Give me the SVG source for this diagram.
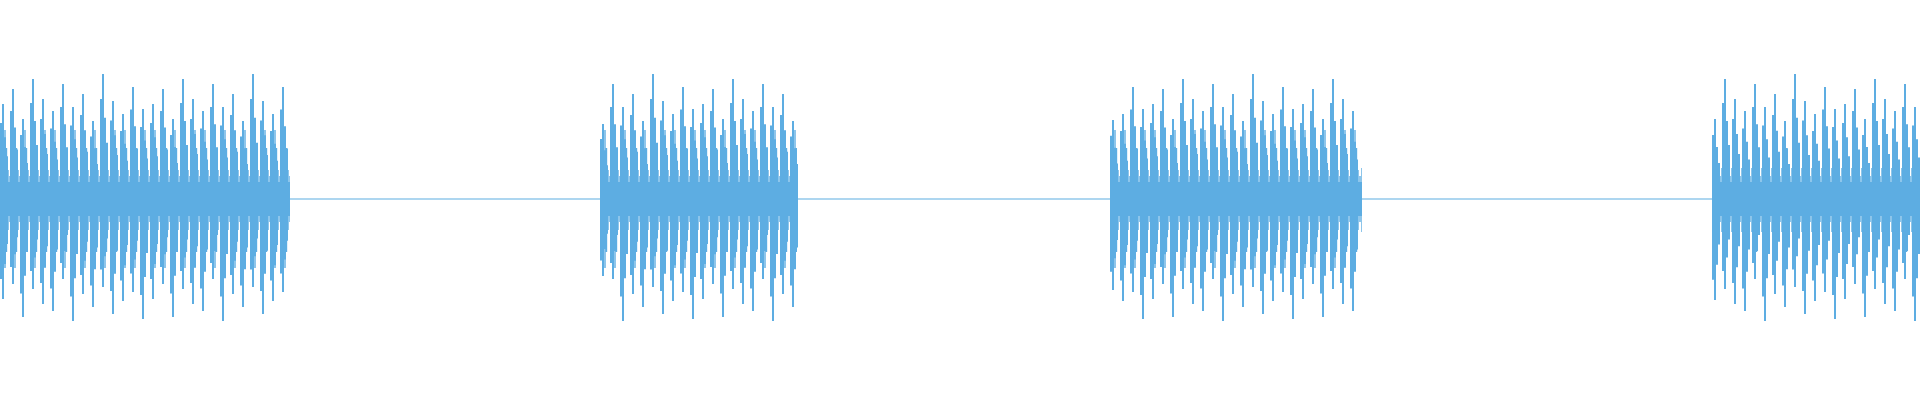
<svg xmlns="http://www.w3.org/2000/svg" width="1920" height="400" viewBox="0 0 1920 400">
<style>.w{stroke:#5dade2;fill:none}</style>
<defs>
<pattern id="p" x="3" y="0" width="10" height="400" patternUnits="userSpaceOnUse">
<rect x="0" y="182" width="10" height="34" fill="#5dade2"/>
<path d="M-2 135V262M2 130V268M-3.5 150V250M3.5 148V252M5 170V230M7 176V222M9 168V232" stroke="#5dade2" stroke-width="1.4"/>
</pattern>
<path id="s" class="w" stroke-width="2" d="M3 104V299M13 89V284M23 119V317M33 79V289M43 99V304M53 111V311M63 84V279M73 107V321M83 94V294M93 121V307M103 74V287M113 101V314M123 114V301M133 87V292M143 109V319M153 104V299M163 89V284M173 119V317M183 79V289M193 99V304M203 111V311M213 84V279M223 107V321M233 94V294M243 121V307M253 74V287M263 101V314M273 114V301M283 87V292
M603 124V276M613 84V279M623 107V321M633 94V294M643 121V307M653 74V287M663 101V314M673 114V301M683 87V292M693 109V319M703 104V299M713 89V284M723 119V317M733 79V289M743 99V304M753 111V311M763 84V279M773 107V321M783 94V294M793 121V307
M1113 120V290M1123 114V301M1133 87V292M1143 109V319M1153 104V299M1163 89V284M1173 119V317M1183 79V289M1193 99V304M1203 111V311M1213 84V279M1223 107V321M1233 94V294M1243 121V307M1253 74V287M1263 101V314M1273 114V301M1283 87V292M1293 109V319M1303 104V299M1313 89V284M1323 119V317M1333 79V289M1343 99V304M1353 111V311
M1715 119V300M1725 79V289M1735 99V304M1745 111V311M1755 84V279M1765 107V321M1775 94V294M1785 121V307M1795 74V287M1805 101V314M1815 114V301M1825 87V292M1835 109V319M1845 104V299M1855 89V284M1865 119V317M1875 79V289M1885 99V304M1895 111V311M1905 84V279M1915 107V321"/>
</defs>
<rect width="1920" height="400" fill="#fff"/>
<path class="w" stroke-width="1.2" d="M0 199H1920"/>
<g id="bursts">
<rect x="0" y="0" width="290" height="400" fill="url(#p)"/>
<rect x="600" y="0" width="197" height="400" fill="url(#p)"/>
<rect x="1110" y="0" width="252" height="400" fill="url(#p)"/>
<rect x="1712" y="0" width="208" height="400" fill="url(#p)"/>
</g>
<g id="spikes">
<use href="#s"/>
<use href="#s" transform="translate(-2,199) scale(1,0.8) translate(0,-199)"/>
<use href="#s" transform="translate(2,199) scale(1,0.65) translate(0,-199)"/>
<use href="#s" transform="translate(4,199) scale(1,0.45) translate(0,-199)"/>
</g>
</svg>
